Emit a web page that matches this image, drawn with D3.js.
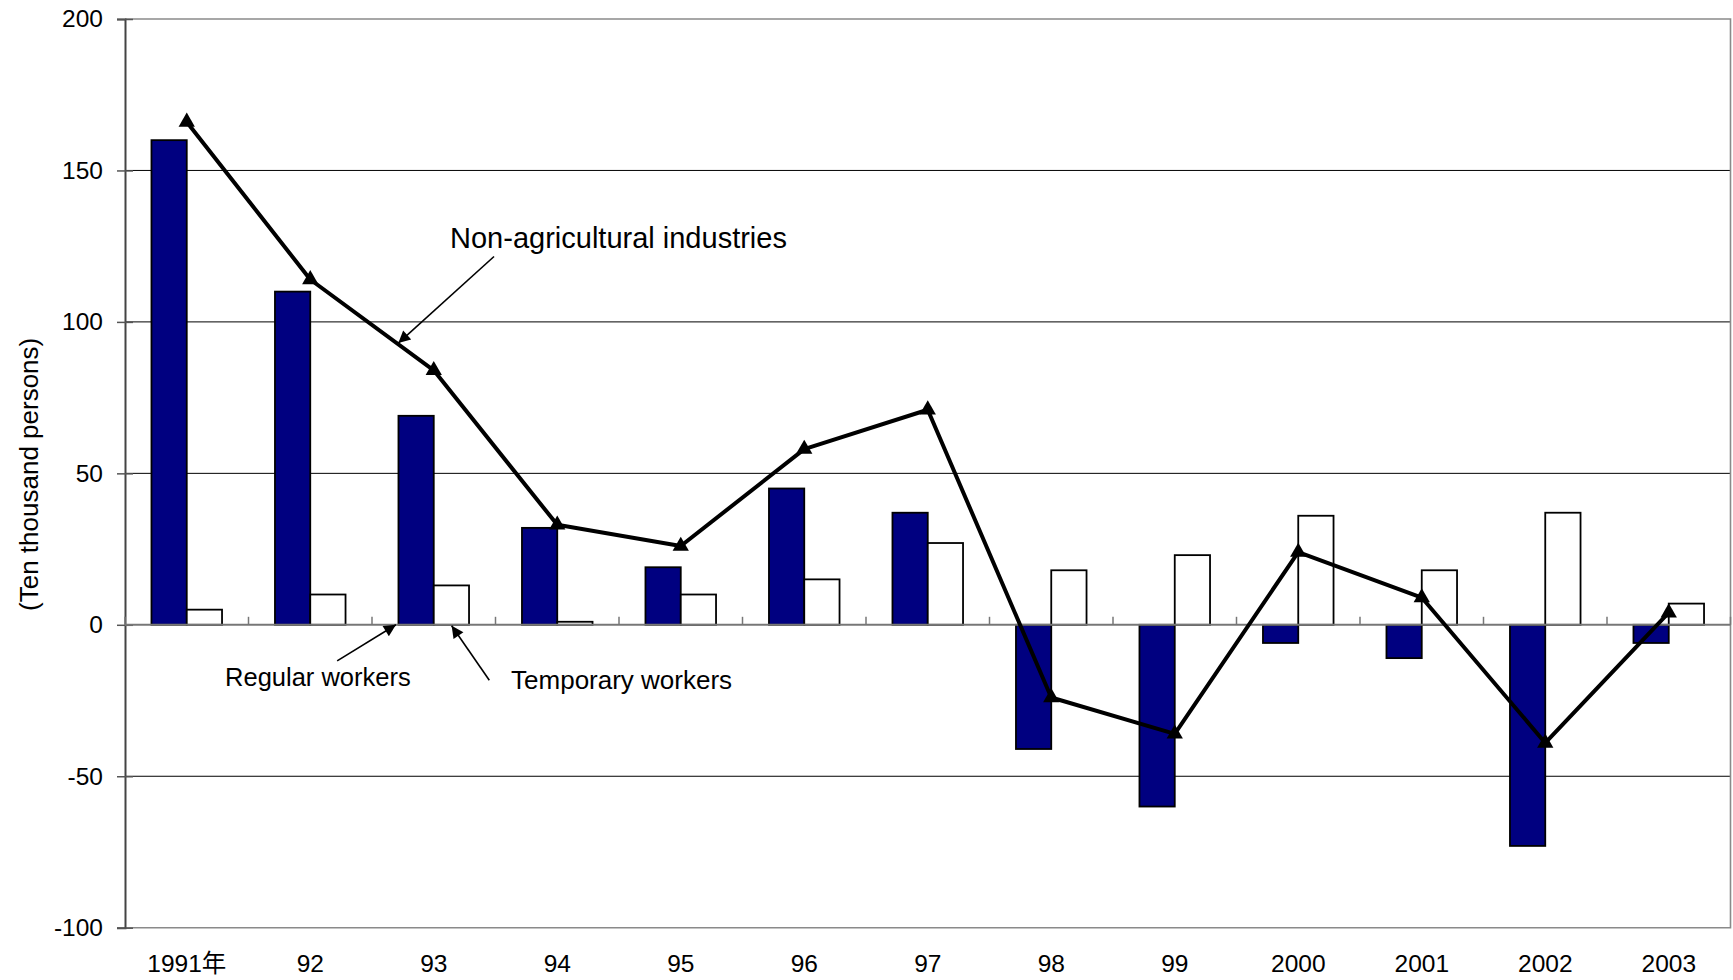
<!DOCTYPE html>
<html>
<head>
<meta charset="utf-8">
<script src="https://cdn.jsdelivr.net/npm/d3@7"></script>
<style>
  html, body { margin: 0; padding: 0; background: #fff; }
  svg text { font-family: "Liberation Sans", Arial, "Noto Sans CJK JP", sans-serif; fill: #000; }
</style>
</head>
<body>
<div id="chart"></div>
<script>
// employment change by year (ten thousand persons)
const years = ['1991', '1992', '1993', '1994', '1995', '1996', '1997', '1998', '1999', '2000', '2001', '2002', '2003'];
const yearLabels = ['1991年', '92', '93', '94', '95', '96', '97', '98', '99', '2000', '2001', '2002', '2003'];
const regular = [160, 110, 69, 32, 19, 45, 37, -41, -60, -6, -11, -73, -6];
const temporary = [5, 10, 13, 1, 10, 15, 27, 18, 23, 36, 18, 37, 7];
const nonAgri = [166, 114, 84, 33, 26, 58, 71, -24, -36, 24, 9, -39, 4];
const yTicks = [-100, -50, 0, 50, 100, 150, 200];

// annotation text + arrows, in (category index, value) units
const notes = [
    { text: 'Non-agricultural industries', size: 29, at: [2.632, 124.5], from: [2.988, 121.6], to: [2.213, 93.0] },
    { text: 'Regular workers', size: 25.5, at: [0.81, -20.1], from: [1.718, -11.9], to: [2.194, 0] },
    { text: 'Temporary workers', size: 26, at: [3.126, -21.3], from: [2.95, -18.3], to: [2.645, -0.3] }
];

const [width, height] = [1733, 980];
const plot = { left: 125, right: 1730.5, top: 19, bottom: 927.7 };

const svg = d3.select('#chart')
    .append('svg')
    .attr('width', width)
    .attr('height', height);

// scales
const x = d3.scaleBand()
    .domain(years)
    .range([plot.left, plot.right])
    .padding(0);
const bw = x.bandwidth();
const gap = bw * 0.75 / 3.5;
const x1 = d3.scaleBand()
    .domain(['regular', 'temporary'])
    .range([gap, bw - gap])
    .padding(0);
const y = d3.scaleLinear()
    .domain([-100, 200])
    .range([plot.bottom, plot.top]);
const xi = d3.scaleLinear()
    .domain([0, years.length])
    .range([plot.left, plot.right]);

// gridlines
svg.append('g')
    .selectAll('line')
    .data(yTicks.filter((d) => d !== 0 && d !== 200 && d !== -100))
    .join('line')
    .attr('x1', plot.left)
    .attr('x2', plot.right)
    .attr('y1', (d) => y(d))
    .attr('y2', (d) => y(d))
    .attr('stroke', '#000')
    .attr('stroke-width', 1);

// plot border (top / right / bottom)
svg.append('path')
    .attr('d', `M${plot.left},${y(200)}H${plot.right}V${y(-100)}H${plot.left}`)
    .attr('fill', 'none')
    .attr('stroke', '#8a8a8a')
    .attr('stroke-width', 1.6);

// y axis
const yAxis = d3.axisLeft(y)
    .tickValues(yTicks)
    .tickSize(8)
    .tickPadding(14)
    .tickFormat((d) => String(d));
const gy = svg.append('g')
    .attr('transform', `translate(${plot.left},0)`)
    .call(yAxis);
gy.select('.domain').attr('stroke', '#444').attr('stroke-width', 2);
gy.selectAll('.tick line').attr('x1', 8).attr('x2', -8).attr('stroke', '#555').attr('stroke-width', 1.5);
gy.selectAll('.tick text').style('font-size', '24.5px');

// y title
svg.append('text')
    .attr('transform', `translate(29,${(plot.top + plot.bottom) / 2 + 1}) rotate(-90)`)
    .attr('text-anchor', 'middle')
    .attr('dominant-baseline', 'central')
    .style('font-size', '26px')
    .text('(Ten thousand persons)');

// bars
const groups = svg.append('g')
    .selectAll('g')
    .data(years.map((yr, i) => ({ yr, regular: regular[i], temporary: temporary[i] })))
    .join('g')
    .attr('transform', (d) => `translate(${x(d.yr)},0)`);

groups.selectAll('rect')
    .data((d) => ['regular', 'temporary'].map((k) => ({ k, v: d[k] })))
    .join('rect')
    .attr('x', (d) => x1(d.k))
    .attr('width', x1.bandwidth())
    .attr('y', (d) => y(Math.max(0, d.v)))
    .attr('height', (d) => Math.abs(y(d.v) - y(0)))
    .attr('fill', (d) => d.k === 'regular' ? '#000080' : '#fff')
    .attr('stroke', '#000')
    .attr('stroke-width', 1.8);

// zero (category) axis with boundary ticks
svg.append('line')
    .attr('x1', plot.left)
    .attr('x2', plot.right)
    .attr('y1', y(0))
    .attr('y2', y(0))
    .attr('stroke', '#777')
    .attr('stroke-width', 2);
svg.append('g')
    .selectAll('line')
    .data(years.map((d) => x(d)).concat([plot.right]))
    .join('line')
    .attr('x1', (d) => d)
    .attr('x2', (d) => d)
    .attr('y1', y(0))
    .attr('y2', y(0) - 8)
    .attr('stroke', '#777')
    .attr('stroke-width', 1.5);

// x labels
const xAxis = d3.axisBottom(x)
    .tickSize(0)
    .tickPadding(27)
    .tickFormat((d, i) => yearLabels[i]);
const gx = svg.append('g')
    .attr('transform', `translate(0,${plot.bottom})`)
    .call(xAxis);
gx.select('.domain').remove();
gx.selectAll('.tick text').style('font-size', '24.5px');

// non-agricultural line
const cx = (i) => x(years[i]) + bw / 2;
const line = d3.line()
    .x((d, i) => cx(i))
    .y((d) => y(d));
svg.append('path')
    .datum(nonAgri)
    .attr('d', line)
    .attr('fill', 'none')
    .attr('stroke', '#000')
    .attr('stroke-width', 4)
    .attr('stroke-linejoin', 'round');
svg.append('g')
    .selectAll('path')
    .data(nonAgri)
    .join('path')
    .attr('transform', (d, i) => `translate(${cx(i)},${y(d)})`)
    .attr('d', d3.symbol(d3.symbolTriangle, 115))
    .attr('fill', '#000');

// arrowhead
svg.append('defs')
    .append('marker')
    .attr('id', 'head')
    .attr('viewBox', '0 0 10 10')
    .attr('refX', 10)
    .attr('refY', 5)
    .attr('markerWidth', 16)
    .attr('markerHeight', 12)
    .attr('markerUnits', 'userSpaceOnUse')
    .attr('orient', 'auto')
    .append('path')
    .attr('d', 'M0,0L10,5L0,10Z')
    .attr('fill', '#000');

// annotations
const ann = svg.append('g');
notes.forEach((n) => {
    ann.append('text')
        .attr('x', xi(n.at[0]))
        .attr('y', y(n.at[1]))
        .style('font-size', n.size + 'px')
        .text(n.text);
    ann.append('line')
        .attr('x1', xi(n.from[0]))
        .attr('y1', y(n.from[1]))
        .attr('x2', xi(n.to[0]))
        .attr('y2', y(n.to[1]))
        .attr('stroke', '#000')
        .attr('stroke-width', 1.6)
        .attr('marker-end', 'url(#head)');
});
</script>
</body>
</html>
